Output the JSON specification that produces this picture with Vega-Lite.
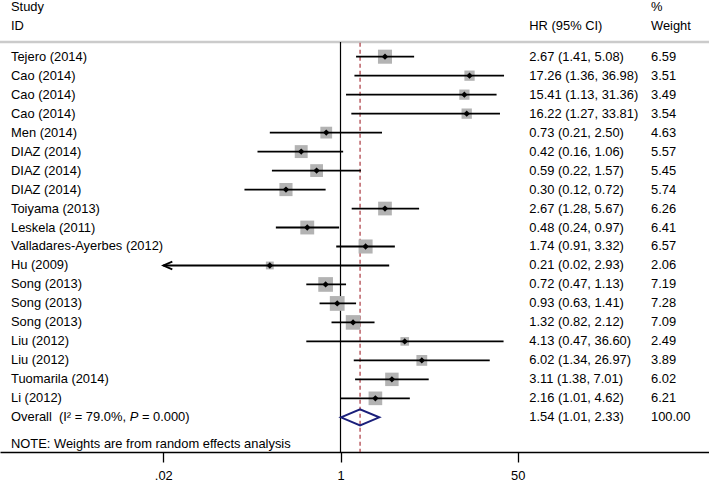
{
  "$schema": "https://vega.github.io/schema/vega-lite/v6.json",
  "width": 709,
  "height": 452,
  "autosize": "none",
  "padding": {"left": 0, "right": 0, "top": 0, "bottom": 32},
  "background": "white",
  "config": {
    "view": {"stroke": null},
    "text": {"font": "Liberation Sans", "fontSize": 12.9, "color": "black", "baseline": "middle", "align": "left"}
  },
  "datasets": {
    "rows": [
      {"r": 1, "study": "Tejero (2014)", "hr": 2.67, "lo": 1.41, "hi": 5.08, "w": 6.59, "type": "study"},
      {"r": 2, "study": "Cao (2014)", "hr": 17.26, "lo": 1.36, "hi": 36.98, "w": 3.51, "type": "study"},
      {"r": 3, "study": "Cao (2014)", "hr": 15.41, "lo": 1.13, "hi": 31.36, "w": 3.49, "type": "study"},
      {"r": 4, "study": "Cao (2014)", "hr": 16.22, "lo": 1.27, "hi": 33.81, "w": 3.54, "type": "study"},
      {"r": 5, "study": "Men (2014)", "hr": 0.73, "lo": 0.21, "hi": 2.50, "w": 4.63, "type": "study"},
      {"r": 6, "study": "DIAZ (2014)", "hr": 0.42, "lo": 0.16, "hi": 1.06, "w": 5.57, "type": "study"},
      {"r": 7, "study": "DIAZ (2014)", "hr": 0.59, "lo": 0.22, "hi": 1.57, "w": 5.45, "type": "study"},
      {"r": 8, "study": "DIAZ (2014)", "hr": 0.30, "lo": 0.12, "hi": 0.72, "w": 5.74, "type": "study"},
      {"r": 9, "study": "Toiyama (2013)", "hr": 2.67, "lo": 1.28, "hi": 5.67, "w": 6.26, "type": "study"},
      {"r": 10, "study": "Leskela (2011)", "hr": 0.48, "lo": 0.24, "hi": 0.97, "w": 6.41, "type": "study"},
      {"r": 11, "study": "Valladares-Ayerbes (2012)", "hr": 1.74, "lo": 0.91, "hi": 3.32, "w": 6.57, "type": "study"},
      {"r": 12, "study": "Hu (2009)", "hr": 0.21, "lo": 0.02, "hi": 2.93, "w": 2.06, "type": "study"},
      {"r": 13, "study": "Song (2013)", "hr": 0.72, "lo": 0.47, "hi": 1.13, "w": 7.19, "type": "study"},
      {"r": 14, "study": "Song (2013)", "hr": 0.93, "lo": 0.63, "hi": 1.41, "w": 7.28, "type": "study"},
      {"r": 15, "study": "Song (2013)", "hr": 1.32, "lo": 0.82, "hi": 2.12, "w": 7.09, "type": "study"},
      {"r": 16, "study": "Liu (2012)", "hr": 4.13, "lo": 0.47, "hi": 36.60, "w": 2.49, "type": "study"},
      {"r": 17, "study": "Liu (2012)", "hr": 6.02, "lo": 1.34, "hi": 26.97, "w": 3.89, "type": "study"},
      {"r": 18, "study": "Tuomarila (2014)", "hr": 3.11, "lo": 1.38, "hi": 7.01, "w": 6.02, "type": "study"},
      {"r": 19, "study": "Li (2012)", "hr": 2.16, "lo": 1.01, "hi": 4.62, "w": 6.21, "type": "study"},
      {"r": 20, "study": "Overall", "hr": 1.54, "lo": 1.01, "hi": 2.33, "w": 100.00, "type": "overall"}
    ]
  },
  "layer": [
    {
      "data": {"values": [{}]},
      "mark": {"type": "rule", "color": "#cbcbcb", "strokeWidth": 2.4},
      "encoding": {
        "y": {"datum": 0.2255, "type": "quantitative", "scale": {"domain": [-1.987, 21.827], "reverse": true, "nice": false, "zero": false}, "axis": null}
      }
    },
    {
      "data": {"values": [{}]},
      "mark": {"type": "rule", "color": "black", "strokeWidth": 1.2},
      "encoding": {
        "x": {"datum": 1, "type": "quantitative", "scale": {"type": "log", "domain": [0.0005436, 3413], "nice": false}, "axis": {"values": [0.02, 1, 50], "title": null, "grid": false, "domainColor": "black", "domainWidth": 1.3, "tickColor": "black", "tickWidth": 1.3, "tickSize": 10, "labelFont": "Liberation Sans", "labelFontSize": 12.9, "labelColor": "black", "labelPadding": 7, "labelExpr": "datum.value < 0.1 ? '.02' : format(datum.value, 'd')"}},
        "y": {"datum": 0.2255, "type": "quantitative"},
        "y2": {"datum": 21.827}
      }
    },
    {
      "data": {"name": "rows"},
      "transform": [{"filter": "datum.type == 'overall'"}],
      "mark": {"type": "rule", "color": "#a3262e", "strokeWidth": 1.1, "strokeDash": [4, 3]},
      "encoding": {
        "x": {"field": "hr", "type": "quantitative"},
        "y": {"datum": 0.27, "type": "quantitative"},
        "y2": {"datum": 21.827}
      }
    },
    {
      "data": {"name": "rows"},
      "transform": [{"filter": "datum.type == 'study'"}],
      "mark": {"type": "point", "shape": "square", "filled": true, "color": "#b3b3b3", "opacity": 1},
      "encoding": {
        "x": {"field": "hr", "type": "quantitative"},
        "y": {"field": "r", "type": "quantitative"},
        "size": {"field": "w", "type": "quantitative", "scale": {"type": "linear", "domain": [0, 10], "range": [0, 300]}, "legend": null}
      }
    },
    {
      "data": {"name": "rows"},
      "transform": [{"filter": "datum.type == 'study'"}],
      "mark": {"type": "rule", "color": "black", "strokeWidth": 1.8},
      "encoding": {
        "x": {"field": "lo", "type": "quantitative"},
        "x2": {"field": "hi"},
        "y": {"field": "r", "type": "quantitative"}
      }
    },
    {
      "data": {"name": "rows"},
      "transform": [{"filter": "datum.type == 'study'"}],
      "mark": {"type": "point", "shape": "diamond", "filled": true, "color": "black", "opacity": 1, "size": 40},
      "encoding": {
        "x": {"field": "hr", "type": "quantitative"},
        "y": {"field": "r", "type": "quantitative"}
      }
    },
    {
      "data": {"name": "rows"},
      "transform": [{"filter": "datum.type == 'study' && datum.lo <= 0.02"}],
      "mark": {"type": "point", "shape": "M2,-0.85L0,0L2,0.85", "filled": false, "color": "black", "strokeWidth": 1.8, "opacity": 1, "size": 81},
      "encoding": {
        "x": {"field": "lo", "type": "quantitative"},
        "y": {"field": "r", "type": "quantitative"}
      }
    },
    {
      "data": {"name": "rows"},
      "transform": [{"filter": "datum.type == 'overall'"}],
      "mark": {"type": "point", "shape": "M-1,0L0,-0.42L1,0L0,0.42Z", "filled": false, "color": "#1a1f7a", "strokeWidth": 2, "opacity": 1, "size": 1467},
      "encoding": {
        "x": {"field": "hr", "type": "quantitative"},
        "y": {"field": "r", "type": "quantitative"}
      }
    },
    {
      "data": {"name": "rows"},
      "transform": [{"filter": "datum.type == 'study'"}],
      "mark": {"type": "text"},
      "encoding": {
        "x": {"datum": 0.000693, "type": "quantitative"},
        "y": {"field": "r", "type": "quantitative"},
        "text": {"field": "study"}
      }
    },
    {
      "data": {"name": "rows"},
      "transform": [{"calculate": "format(datum.hr, '.2f') + ' (' + format(datum.lo, '.2f') + ', ' + format(datum.hi, '.2f') + ')'", "as": "ci"}],
      "mark": {"type": "text"},
      "encoding": {
        "x": {"datum": 64.6, "type": "quantitative"},
        "y": {"field": "r", "type": "quantitative"},
        "text": {"field": "ci"}
      }
    },
    {
      "data": {"name": "rows"},
      "mark": {"type": "text"},
      "encoding": {
        "x": {"datum": 948, "type": "quantitative"},
        "y": {"field": "r", "type": "quantitative"},
        "text": {"field": "w", "format": ".2f"}
      }
    },
    {
      "data": {"name": "rows"},
      "transform": [{"filter": "datum.type == 'overall'"}],
      "mark": {"type": "text"},
      "encoding": {
        "x": {"datum": 0.000693, "type": "quantitative"},
        "y": {"field": "r", "type": "quantitative"},
        "text": {"value": "Overall\u00a0\u00a0(I² = 79.0%,"}
      }
    },
    {
      "data": {"name": "rows"},
      "transform": [{"filter": "datum.type == 'overall'"}],
      "mark": {"type": "text", "fontStyle": "italic", "dx": 118.7},
      "encoding": {
        "x": {"datum": 0.000693, "type": "quantitative"},
        "y": {"field": "r", "type": "quantitative"},
        "text": {"value": "P"}
      }
    },
    {
      "data": {"name": "rows"},
      "transform": [{"filter": "datum.type == 'overall'"}],
      "mark": {"type": "text", "dx": 130.9},
      "encoding": {
        "x": {"datum": 0.000693, "type": "quantitative"},
        "y": {"field": "r", "type": "quantitative"},
        "text": {"value": "= 0.000)"}
      }
    },
    {
      "data": {"values": [{}]},
      "mark": {"type": "text"},
      "encoding": {
        "x": {"datum": 0.000693, "type": "quantitative"},
        "y": {"datum": 21.38, "type": "quantitative"},
        "text": {"value": "NOTE: Weights are from random effects analysis"}
      }
    },
    {
      "data": {"values": [{}]},
      "mark": {"type": "text"},
      "encoding": {
        "x": {"datum": 0.000693, "type": "quantitative"},
        "y": {"datum": -1.619, "type": "quantitative"},
        "text": {"value": "Study"}
      }
    },
    {
      "data": {"values": [{}]},
      "mark": {"type": "text"},
      "encoding": {
        "x": {"datum": 0.000693, "type": "quantitative"},
        "y": {"datum": -0.617, "type": "quantitative"},
        "text": {"value": "ID"}
      }
    },
    {
      "data": {"values": [{}]},
      "mark": {"type": "text"},
      "encoding": {
        "x": {"datum": 64.6, "type": "quantitative"},
        "y": {"datum": -0.617, "type": "quantitative"},
        "text": {"value": "HR (95% CI)"}
      }
    },
    {
      "data": {"values": [{}]},
      "mark": {"type": "text"},
      "encoding": {
        "x": {"datum": 948, "type": "quantitative"},
        "y": {"datum": -1.619, "type": "quantitative"},
        "text": {"value": "%"}
      }
    },
    {
      "data": {"values": [{}]},
      "mark": {"type": "text"},
      "encoding": {
        "x": {"datum": 948, "type": "quantitative"},
        "y": {"datum": -0.617, "type": "quantitative"},
        "text": {"value": "Weight"}
      }
    }
  ]
}
